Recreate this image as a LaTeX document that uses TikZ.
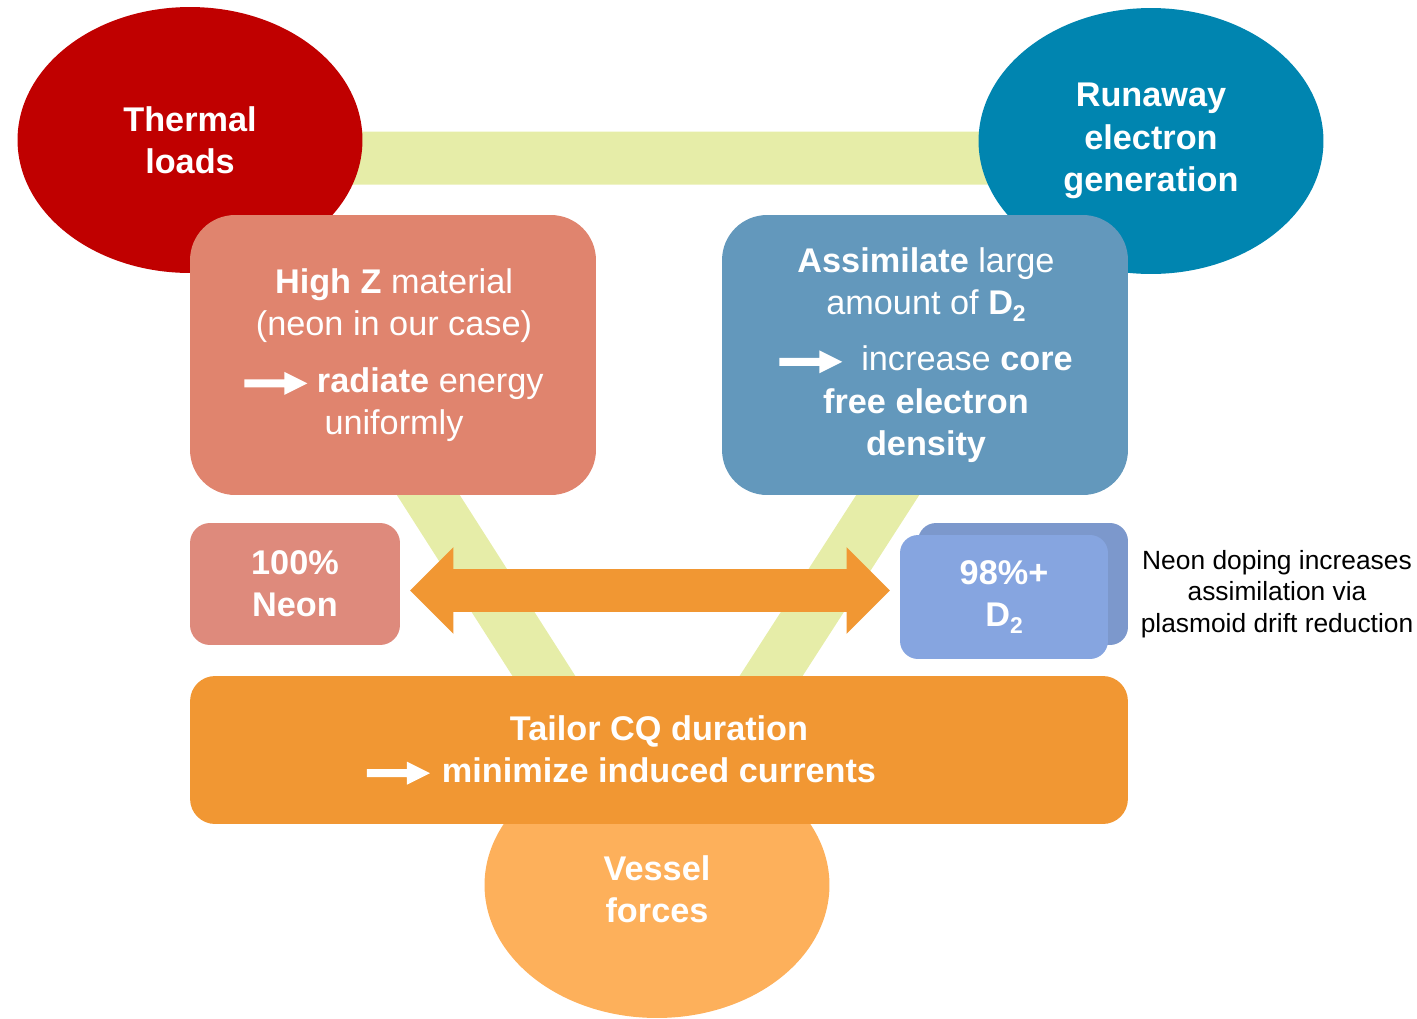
\documentclass[tikz,border=0pt]{standalone}
\usepackage{fontspec}
\setmainfont{Liberation Sans}
\usetikzlibrary{shapes.geometric,shapes.arrows,calc}

\definecolor{thermalred}{HTML}{C00000}
\definecolor{runawayblue}{HTML}{0085B0}
\definecolor{vesselorange}{HTML}{FDB05B}
\definecolor{bargreen}{HTML}{E6EDA8}
\definecolor{highzred}{HTML}{E0846E}
\definecolor{assimblue}{HTML}{6398BC}
\definecolor{neonred}{HTML}{DE8A7C}
\definecolor{dfront}{HTML}{86A5E0}
\definecolor{dback}{HTML}{7C98CC}
\definecolor{tailororange}{HTML}{F19733}

\newcommand{\whitearrow}{\tikz[baseline=-0.5ex,x=1cm,y=1cm,sharp corners]\fill[white] (0,-0.08) -- (0.8,-0.08) -- (0.8,-0.23) -- (1.26,0) -- (0.8,0.23) -- (0.8,0.08) -- (0,0.08) -- cycle;}
\newcommand{\dsub}[1]{\raisebox{-0.35ex}{\fontsize{13}{13}\selectfont #1}}

\tikzset{
  blob/.style={ellipse, inner sep=0pt, minimum width=6.9cm, minimum height=5.32cm,
    text=white, align=center, font=\bfseries\fontsize{19.5}{24}\selectfont},
  panel/.style={rectangle, inner sep=0pt, text=white, align=center,
    font=\fontsize{19.5}{24}\selectfont},
  bar/.style={draw=bargreen, line width=1.06cm},
}

\begin{document}
\begin{tikzpicture}[x=0.02cm,y=-0.02cm]

\useasboundingbox (0,0) rectangle (1417,1018);

% Triangle of bars
\coordinate (barL) at (213,158);
\coordinate (barR) at (1105,158);
\coordinate (barB) at (657,853);
\draw[bar] (barL) -- (barR) -- (barB) -- cycle;

% Ellipses
\node[blob, fill=thermalred] (thermal) at (190,140) {Thermal\\loads};
\node[blob, fill=runawayblue] (runaway) at (1151,141) {Runaway\\electron\\generation};
\node[blob, fill=vesselorange] (vessel) at (657,885) {};
\node[text=white, align=center, font=\bfseries\fontsize{19.5}{24}\selectfont] (vtext) at (657,889) {Vessel\\forces};

% Boxes
\node[panel, fill=highzred, rounded corners=0.9cm, minimum width=8.12cm, minimum height=5.6cm] (highz) at (393,355) {};
\node[panel] (highztext) at (394,355)
  {\textbf{High Z} material\\(neon in our case)\\[0.3cm]\whitearrow\ \textbf{radiate} energy\\uniformly};
\node[panel, fill=assimblue, rounded corners=0.9cm, minimum width=8.12cm, minimum height=5.6cm] (assim) at (925,355) {};
\node[panel] (assimtext) at (926,355)
  {\textbf{Assimilate} large\\amount of \textbf{D\dsub{2}}\\[0.28cm]\whitearrow\ \ increase \textbf{core}\\\textbf{free electron}\\\textbf{density}};
\node[panel, fill=neonred, rounded corners=0.4cm, minimum width=4.2cm, minimum height=2.44cm, font=\bfseries\fontsize{19.5}{24}\selectfont] (neon) at (295,584) {100\%\\Neon};
\node[panel, fill=dback, rounded corners=0.36cm, minimum width=4.2cm, minimum height=2.44cm] (d2back) at (1023,584) {};
\node[panel, fill=dfront, rounded corners=0.36cm, minimum width=4.16cm, minimum height=2.48cm, font=\bfseries\fontsize{19.5}{24}\selectfont] (d2) at (1004,597) {98\%+\\D\dsub{2}};
\node[panel, fill=tailororange, rounded corners=0.5cm, minimum width=18.76cm, minimum height=2.96cm, font=\bfseries\fontsize{19.5}{24}\selectfont] (tailor) at (659,750)
  {Tailor CQ duration\\\llap{\whitearrow\hspace{0.24cm}}minimize induced currents};

% Mixing arrow
\node[double arrow, fill=tailororange, inner xsep=0pt, inner ysep=0.42cm, minimum height=9.6cm, minimum width=1.72cm,
  double arrow head extend=0.44cm] (mix) at ($(neon.east)!0.5!(d2.west)$) {};

\node[align=center, font=\fontsize{15}{18}\selectfont] (note) at (1277,594)
  {Neon doping increases\\assimilation via\\plasmoid drift reduction};

\end{tikzpicture}
\end{document}
